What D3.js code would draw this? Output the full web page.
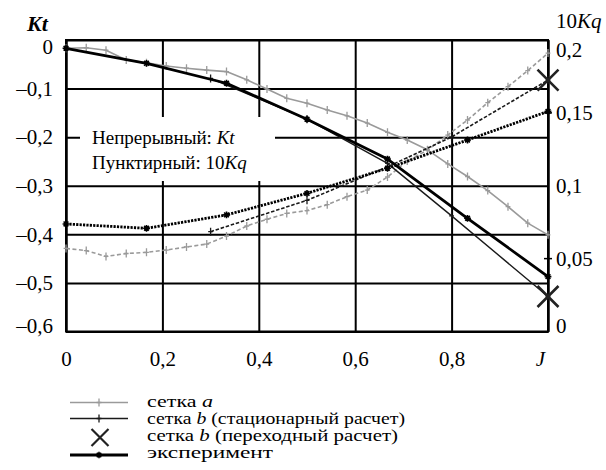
<!DOCTYPE html>
<html><head><meta charset="utf-8">
<script src="https://cdn.jsdelivr.net/npm/d3@7"></script>
<style>
html,body{margin:0;padding:0;background:#fff;}
#chart text{font-family:"Liberation Serif","Times New Roman",Times,"DejaVu Serif","Noto Serif",serif !important;}
</style></head><body>
<svg id="chart" width="606" height="470"></svg>
<script>
// Advance ratio J for each data set
const J_a   = [0, 0.042, 0.083, 0.125, 0.167, 0.208, 0.25, 0.292, 0.333, 0.375, 0.417, 0.458, 0.5,
               0.542, 0.583, 0.625, 0.667, 0.708, 0.75, 0.792, 0.833, 0.875, 0.917, 0.958, 1];
const J_b   = [0.3, 0.5, 0.667, 0.8, 1];
const J_tr  = [1];
const J_exp = [0, 0.167, 0.333, 0.5, 0.667, 0.833, 1];

// Thrust coefficient Kt
const Kt_a   = [-0.017, -0.016, -0.021, -0.041, -0.047, -0.0535, -0.058, -0.062, -0.065, -0.082, -0.101, -0.12, -0.13,
                -0.144, -0.156, -0.171, -0.19, -0.206, -0.226, -0.255, -0.281, -0.31, -0.343, -0.377, -0.401];
const Kt_b   = [-0.079, -0.163, -0.254, -0.362, -0.528];
const Kt_tr  = [-0.528];
const Kt_exp = [-0.017, -0.048, -0.089, -0.163, -0.245, -0.367, -0.487];

// Torque coefficient 10Kq
const Kq_a   = [0.057, 0.0555, 0.0515, 0.0535, 0.0543, 0.0559, 0.058, 0.06, 0.0655, 0.0724, 0.077, 0.081, 0.083,
                0.087, 0.0925, 0.097, 0.106, 0.117, 0.1245, 0.1348, 0.1451, 0.157, 0.168, 0.179, 0.191];
const Kq_b   = [0.0685, 0.09, 0.113, 0.1335, 0.1725];
const Kq_tr  = [0.1725];
const Kq_exp = [0.0738, 0.0708, 0.08, 0.0948, 0.112, 0.1314, 0.151];

// Axis ticks
const xTicks  = [0, 0.2, 0.4, 0.6, 0.8, 1];
const ktTicks = [0, -0.1, -0.2, -0.3, -0.4, -0.5, -0.6];
const kqTicks = [0, 0.05, 0.1, 0.15, 0.2];
const legendLabels = ["сетка ", "сетка ", "сетка ", "эксперимент"];

const svg = d3.select("#chart");
const L = 66, R = 548, T = 40, B = 331.5;
const x   = d3.scaleLinear().domain([0, 1]).range([L, R]);
const yKt = d3.scaleLinear().domain([-0.6, 0]).range([B, T]);
const yKq = d3.scaleLinear().domain([0, 0.2]).range([B, T]);

const comma = v => {
  if (v === 0) return "0";
  const s = d3.format(".2~f")(Math.abs(v)).replace(".", ",");
  return (v < 0 ? "\u2013" : "") + s;
};

// Left axis with horizontal grid
const gl = svg.append("g").attr("transform", `translate(${L},0)`)
  .call(d3.axisLeft(yKt).tickValues(ktTicks).tickSizeInner(-(R - L)).tickSizeOuter(0)
        .tickPadding(13).tickFormat(comma));
// Bottom axis with vertical grid
const gb = svg.append("g").attr("transform", `translate(0,${B})`)
  .call(d3.axisBottom(x).tickValues(xTicks).tickSizeInner(-(B - T)).tickSizeOuter(0)
        .tickPadding(20).tickFormat(v => v === 1 ? "J" : comma(v)));
// Right axis (10Kq)
const gr = svg.append("g").attr("transform", `translate(${R},0)`)
  .call(d3.axisRight(yKq).tickValues(kqTicks).tickSize(0).tickPadding(8).tickFormat(comma));

[gl, gb, gr].forEach(g => {
  g.attr("font-size", 21);
  g.selectAll("path.domain").attr("stroke", "#000").attr("stroke-width", 2);
  g.selectAll(".tick line").attr("stroke", "#000").attr("stroke-width", 2);
  g.selectAll(".tick text").attr("fill", "#000");
});
gl.selectAll(".tick text").attr("dy", d => d === 0 ? "0.65em" : d === -0.6 ? "0.05em" : "0.32em");
gr.selectAll(".tick text").attr("dy", d => d === 0.2 ? "0.8em" : d === 0 ? "0.03em" : "0.32em");
gb.selectAll(".tick text").filter(d => d === 1)
  .attr("font-style", "italic").attr("dx", "-8");

// Frame
svg.append("rect").attr("x", L).attr("y", T).attr("width", R - L).attr("height", B - T)
  .attr("fill", "none").attr("stroke", "#000").attr("stroke-width", 2);

// Small tick marks on the right axis
svg.append("g").selectAll("line").data([0.05, 0.15]).join("line")
  .attr("x1", R - 4).attr("x2", R + 4)
  .attr("y1", d => yKq(d)).attr("y2", d => yKq(d))
  .attr("stroke", "#000").attr("stroke-width", 1.5);

// Note box
svg.append("rect").attr("x", 80).attr("y", 117).attr("width", 195).attr("height", 64).attr("fill", "#fff");
const n1 = svg.append("text").attr("x", 92).attr("y", 144).attr("font-size", 19);
n1.append("tspan").text("Непрерывный: ");
n1.append("tspan").attr("font-style", "italic").text("Kt");
const n2 = svg.append("text").attr("x", 92).attr("y", 168.5).attr("font-size", 19);
n2.append("tspan").text("Пунктирный: 10");
n2.append("tspan").attr("font-style", "italic").text("Kq");

// Axis titles
svg.append("text").attr("x", 27).attr("y", 31).attr("font-size", 22)
  .attr("font-style", "italic").attr("font-weight", "bold").text("Kt");
const tq = svg.append("text").attr("x", 556).attr("y", 28).attr("font-size", 21);
tq.append("tspan").text("10");
tq.append("tspan").attr("font-style", "italic").text("Kq");

// Marker shapes
const plusPath = s => `M0,${-s}V${s}M${-s * 0.6},0H${s * 0.6}`;
const starPath = s => `M${-s},0H${s}M0,${-s}V${s}M${-s * 0.7},${-s * 0.7}L${s * 0.7},${s * 0.7}M${-s * 0.7},${s * 0.7}L${s * 0.7},${-s * 0.7}`;
const crossPath = s => `M${-s},${-s}L${s},${s}M${-s},${s}L${s},${-s}`;

function series(Js, vals, yScale, style, marker) {
  const pts = Js.map((j, i) => [x(j), yScale(vals[i])]);
  if (pts.length > 1) {
    svg.append("path").attr("d", d3.line()(pts)).attr("fill", "none")
      .attr("stroke", style.color).attr("stroke-width", style.width)
      .attr("stroke-dasharray", style.dash || null)
      .attr("stroke-linejoin", "round");
  }
  if (marker) {
    svg.append("g").selectAll("path").data(pts).join("path")
      .attr("transform", d => `translate(${d[0]},${d[1]})`)
      .attr("d", marker.path).attr("fill", "none")
      .attr("stroke", marker.color).attr("stroke-width", marker.width);
  }
}

const gray = "#9a9a9a", dark = "#1a1a1a";
// сетка a
series(J_a, Kt_a, yKt, {color: gray, width: 1.6}, {path: plusPath(4), color: gray, width: 1.3});
series(J_a, Kq_a, yKq, {color: gray, width: 1.6, dash: "4 2.5"}, {path: plusPath(4), color: gray, width: 1.3});
// сетка b, stationary
series(J_b, Kt_b, yKt, {color: dark, width: 1.4}, {path: plusPath(4), color: dark, width: 1.3});
series(J_b, Kq_b, yKq, {color: dark, width: 1.6, dash: "3.5 1.8"}, {path: plusPath(4), color: dark, width: 1.3});
// experiment
series(J_exp, Kt_exp, yKt, {color: "#000", width: 2.8}, {path: starPath(3.4), color: "#000", width: 1.6});
series(J_exp, Kq_exp, yKq, {color: "#000", width: 2.8, dash: "2.2 1.2"}, {path: starPath(3.4), color: "#000", width: 1.6});
// сетка b, transient
series(J_tr, Kt_tr, yKt, {color: dark, width: 2}, {path: crossPath(10.5), color: "#222", width: 2.6});
series(J_tr, Kq_tr, yKq, {color: dark, width: 2}, {path: crossPath(10.5), color: "#222", width: 2.6});

// Legend
const lg = svg.append("g");
const rows = [
  {y: 402.5, type: "line", color: gray, width: 1.6, marker: plusPath(4), mw: 1.3, label: legendLabels[0], it: "a", rest: "", w: 66},
  {y: 418.5, type: "line", color: dark, width: 1.6, marker: plusPath(4), mw: 1.3, label: legendLabels[1], it: "b", rest: " (стационарный расчет)", w: 258},
  {y: 437.5, type: "cross", label: legendLabels[2], it: "b", rest: " (переходный расчет)", w: 251},
  {y: 455, type: "line", color: "#000", width: 2.8, marker: starPath(3.2), mw: 1.6, label: legendLabels[3], it: "", rest: "", w: 126}
];
const textY = [406.5, 423.5, 440.5, 457.5];
rows.forEach((r, i) => {
  if (r.type === "line") {
    lg.append("line").attr("x1", 70).attr("x2", 128).attr("y1", r.y).attr("y2", r.y)
      .attr("stroke", r.color).attr("stroke-width", r.width);
    lg.append("path").attr("transform", `translate(99,${r.y})`).attr("d", r.marker)
      .attr("fill", "none").attr("stroke", r.color).attr("stroke-width", r.mw);
  } else {
    lg.append("path").attr("transform", `translate(100,${r.y})`).attr("d", crossPath(8.5))
      .attr("fill", "none").attr("stroke", "#222").attr("stroke-width", 2.2);
  }
  const t = lg.append("text").attr("x", 147).attr("y", textY[i]).attr("font-size", 16)
    .attr("textLength", r.w).attr("lengthAdjust", "spacingAndGlyphs");
  t.append("tspan").text(r.label);
  if (r.it) t.append("tspan").attr("font-style", "italic").text(r.it);
  if (r.rest) t.append("tspan").text(r.rest);
});
</script>
</body></html>
